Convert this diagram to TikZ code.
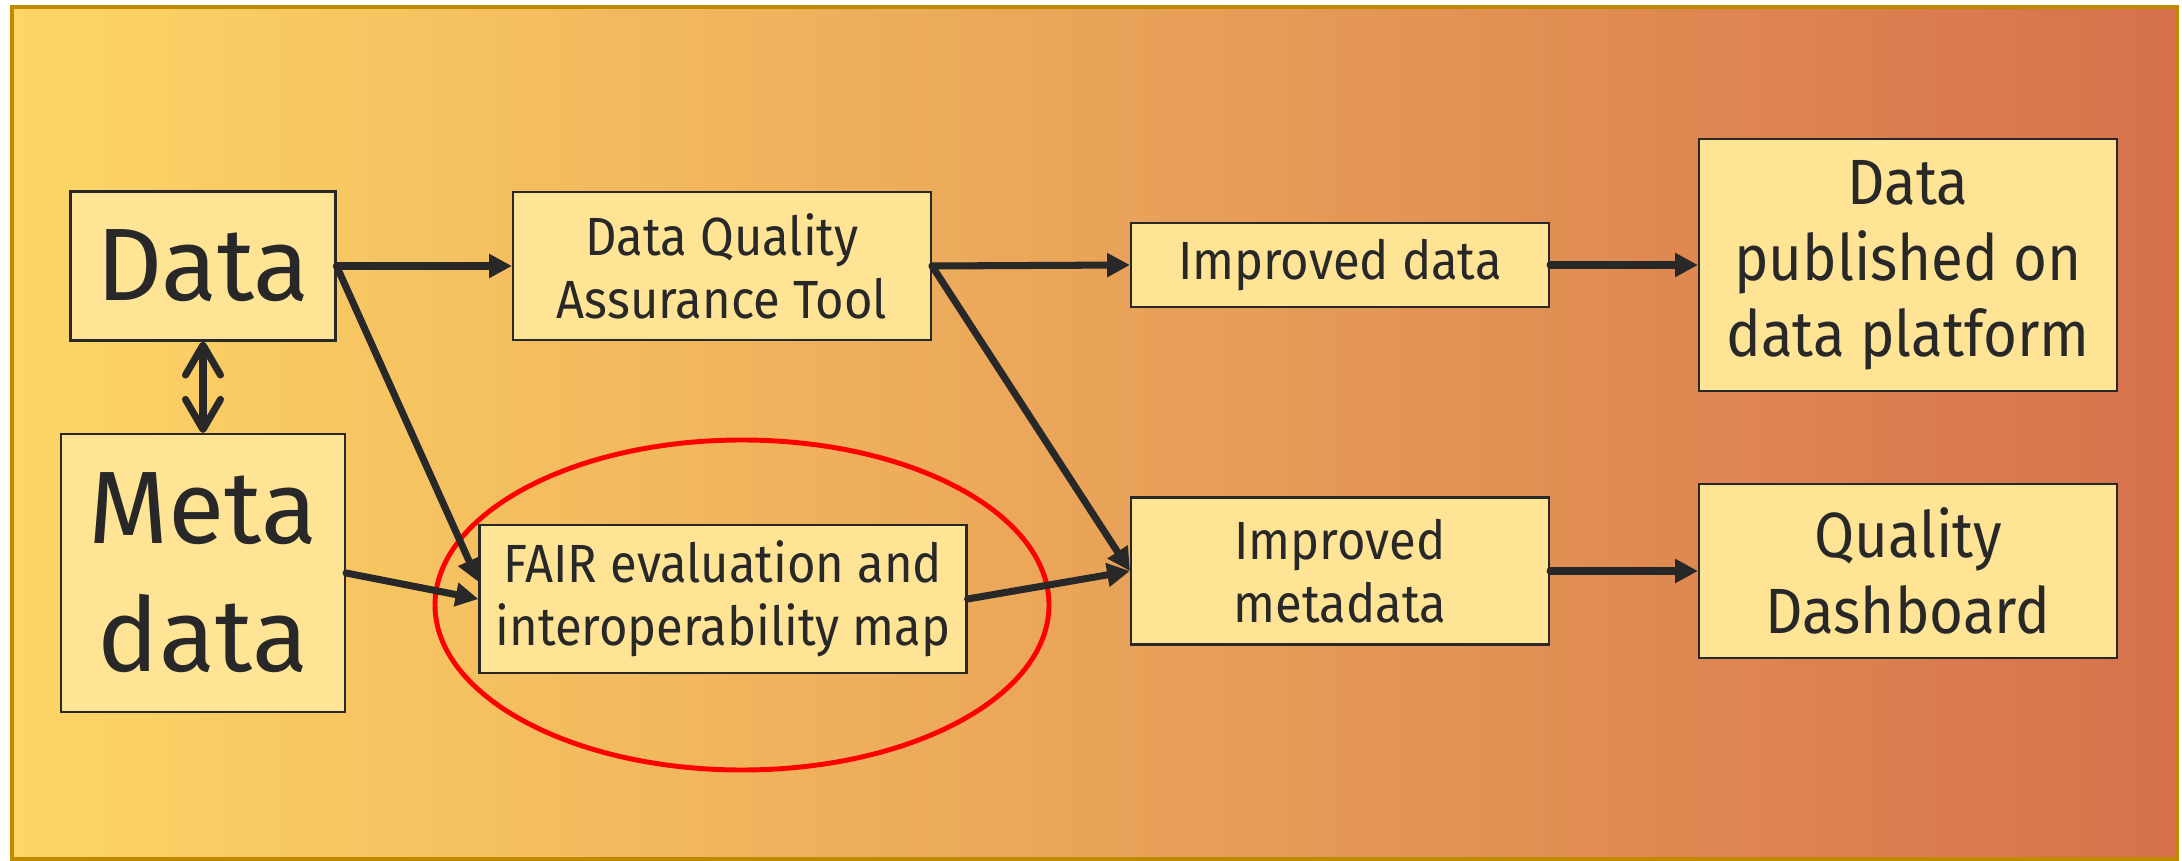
\documentclass[tikz,border=0pt]{standalone}
\usepackage{fontspec}
\setmainfont{Fira Sans}[FakeStretch=0.91]
\newfontfamily\bigfont{Fira Sans}
\usetikzlibrary{arrows.meta}
\definecolor{bgleft}{RGB}{253,214,102}
\definecolor{bgright}{RGB}{214,113,76}
\definecolor{framecol}{RGB}{191,138,0}
\definecolor{boxfill}{RGB}{255,228,150}
\definecolor{ink}{RGB}{40,40,40}
\begin{document}
\begin{tikzpicture}[-{Triangle[length=6.5pt,width=6.5pt]}, line width=2pt, draw=ink, line cap=round]
\useasboundingbox (0,0) rectangle (21.82,-8.61);
\draw[-, draw=framecol, line width=1.4pt, line cap=butt, left color=bgleft, right color=bgright] (0.12,-0.07) rectangle (21.77,-8.59);
\tikzstyle{every node} = [rectangle, draw=ink, line width=0.6pt, fill=boxfill, align=center, text=ink, font=\fontsize{15.3}{17.9}\selectfont]
\tikzstyle{big} = [font=\bigfont\fontsize{29.3}{36.4}\selectfont]
\tikzstyle{large} = [font=\fontsize{18.2}{21.6}\selectfont]
\node[big, minimum width=2.65cm, minimum height=1.49cm] (data) at (2.03,-2.66) {Data};
\node[big, minimum width=2.84cm, minimum height=2.78cm] (meta) at (2.03,-5.73) {Meta\\data};
\node[minimum width=4.18cm, minimum height=1.48cm] (dqa) at (7.22,-2.66) {Data Quality\\Assurance Tool};
\node[minimum width=4.87cm, minimum height=1.48cm] (fair) at (7.23,-5.99) {FAIR evaluation and\\interoperability map};
\node[minimum width=4.18cm, minimum height=0.84cm] (impdata) at (13.40,-2.65) {Improved data};
\node[minimum width=4.18cm, minimum height=1.47cm] (impmeta) at (13.40,-5.71) {Improved\\metadata};
\node[large, minimum width=4.18cm, minimum height=2.52cm] (publ) at (19.08,-2.65) {Data\\published on\\data platform};
\node[large, minimum width=4.18cm, minimum height=1.74cm] (dash) at (19.08,-5.71) {Quality\\Dashboard};
\tikzstyle{every node} = []
\draw[-, red, line width=1.4pt] (7.42,-6.05) ellipse (3.07cm and 1.65cm);
\draw (data.east) -- (dqa.west);
\draw (data.east) -- (fair.176);
\draw (meta.east) -- (fair.west);
\draw (dqa.east) -- (impdata.west);
\draw (dqa.east) -- (impmeta.west);
\draw (fair.east) -- (impmeta.west);
\draw (impdata.east) -- (publ.west);
\draw (impmeta.east) -- (dash.west);
\draw[{Straight Barb[length=0.3cm,width=0.35cm,round]}-{Straight Barb[length=0.3cm,width=0.35cm,round]}] (data.south) -- (meta.north);
\end{tikzpicture}
\end{document}
